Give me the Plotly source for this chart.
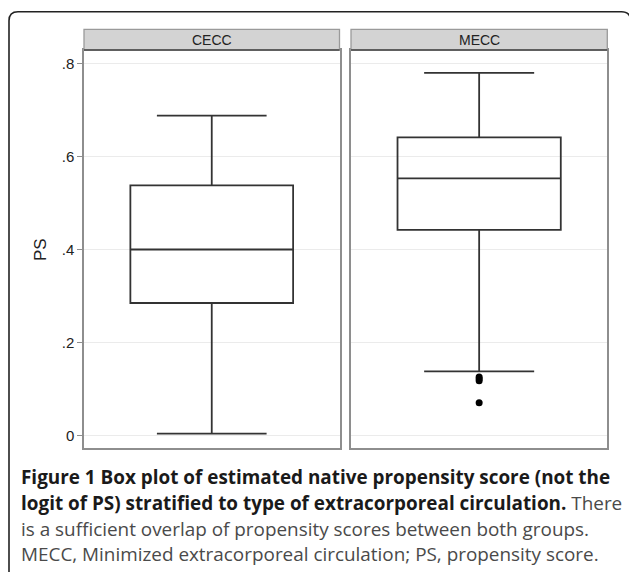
import plotly.graph_objects as go

W, H = 629, 572

# ---- data ----
groups = ["CECC", "MECC"]
q1 = [0.286, 0.443]
median = [0.401, 0.554]
q3 = [0.539, 0.642]
lowerfence = [0.005, 0.139]
upperfence = [0.689, 0.781]
mecc_outliers = [0.127, 0.123, 0.119, 0.0715]
tick_vals = [0, 0.2, 0.4, 0.6, 0.8]
tick_text = ["0", ".2", ".4", ".6", ".8"]

caption_lines = [
    "<b>Figure 1 Box plot of estimated native propensity score (not the</b>",
    "<b>logit of PS) stratified to type of extracorporeal circulation.</b> <span style='color:#4a4a4a'>There</span>",
    "<span style='color:#4a4a4a'>is a sufficient overlap of propensity scores between both groups.</span>",
    "<span style='color:#4a4a4a'>MECC, Minimized extracorporeal circulation; PS, propensity score.</span>",
]


def px(x):
    return x / W


def py(y):
    return 1 - y / H


panel_left = [84, 351]
panel_right = [339.5, 607.3]
plot_top, plot_bottom = 50, 448.3
strip_top = 29.3

fig = go.Figure()

line_col = "#333333"
for i, g in enumerate(groups):
    fig.add_trace(go.Box(
        x=[0.5], q1=[q1[i]], median=[median[i]], q3=[q3[i]],
        lowerfence=[lowerfence[i]], upperfence=[upperfence[i]],
        width=0.637, whiskerwidth=0.674,
        fillcolor="rgba(0,0,0,0)",
        line=dict(color=line_col, width=1.8),
        boxpoints=False, hoverinfo="skip", showlegend=False,
        xaxis="x" if i == 0 else "x2", yaxis="y" if i == 0 else "y2",
    ))

fig.add_trace(go.Scatter(
    x=[0.5] * len(mecc_outliers), y=mecc_outliers, mode="markers",
    marker=dict(color="black", size=7), showlegend=False,
    xaxis="x2", yaxis="y2", hoverinfo="skip",
))

yrange = [-0.0265, 0.830]
ydom = [py(plot_bottom), py(plot_top)]
axis_line = "#8e8e8e"
common_x = dict(range=[0, 1], showgrid=False, zeroline=False, showticklabels=False,
                ticks="", showline=True, mirror=True, linecolor=axis_line, linewidth=1.5)
common_y = dict(range=yrange, domain=ydom, tickvals=tick_vals, showgrid=True,
                gridcolor="#ebebeb", gridwidth=1, zeroline=False, showline=True,
                mirror=True, linecolor=axis_line, linewidth=1.5)

fig.update_layout(
    width=W, height=H, margin=dict(l=0, r=0, t=0, b=0),
    paper_bgcolor="white", plot_bgcolor="white",
    xaxis=dict(domain=[px(panel_left[0]), px(panel_right[0])], anchor="y", **common_x),
    xaxis2=dict(domain=[px(panel_left[1]), px(panel_right[1])], anchor="y2", **common_x),
    yaxis=dict(anchor="x", ticktext=tick_text, ticks="outside", ticklen=5, tickcolor=axis_line,
               tickfont=dict(family="Liberation Sans", size=15, color="#222"), **common_y),
    yaxis2=dict(anchor="x2", showticklabels=False, ticks="", **common_y),
)

shapes = []
annotations = []
for i, g in enumerate(groups):
    shapes.append(dict(type="rect", xref="paper", yref="paper",
                       x0=px(panel_left[i]), x1=px(panel_right[i]),
                       y0=py(plot_top), y1=py(strip_top),
                       fillcolor="#d3d3d3", line=dict(color="#9a9a9a", width=1.3)))
    shapes.append(dict(type="line", xref="paper", yref="paper",
                       x0=px(panel_left[i]), x1=px(panel_right[i]),
                       y0=py(plot_top), y1=py(plot_top),
                       line=dict(color="#444", width=1.6)))
    annotations.append(dict(text=g, xref="paper", yref="paper",
                            x=px((panel_left[i] + panel_right[i]) / 2),
                            y=py((strip_top + plot_top) / 2), showarrow=False,
                            xanchor="center", yanchor="middle",
                            font=dict(family="Liberation Sans", size=14, color="#222")))

# outer rounded border
L, T, R, r = 9, 11.7, 630.5, 9
path = (f"M {px(L)},{py(H + 5)} L {px(L)},{py(T + r)} Q {px(L)},{py(T)} {px(L + r)},{py(T)} "
        f"L {px(R - r)},{py(T)} Q {px(R)},{py(T)} {px(R)},{py(T + r)} L {px(R)},{py(H + 5)}")
shapes.append(dict(type="path", xref="paper", yref="paper", path=path,
                   line=dict(color="#222", width=1.6)))

annotations.append(dict(text="PS", xref="paper", yref="paper", x=px(40), y=py(250),
                        textangle=-90, showarrow=False, xanchor="center", yanchor="middle",
                        font=dict(family="Liberation Sans", size=17, color="#222")))

line_y = [477, 503, 529, 554]
for t, yy in zip(caption_lines, line_y):
    annotations.append(dict(text=t, xref="paper", yref="paper", x=px(19), y=py(yy),
                            showarrow=False, xanchor="left", yanchor="middle", align="left",
                            font=dict(family="Open Sans", size=18.9, color="#1a1a1a")))

fig.update_layout(shapes=shapes, annotations=annotations)
fig.write_html("out.html", config={"displayModeBar": False},
               post_script="document.body.style.margin='0';document.body.style.overflow='hidden';")
